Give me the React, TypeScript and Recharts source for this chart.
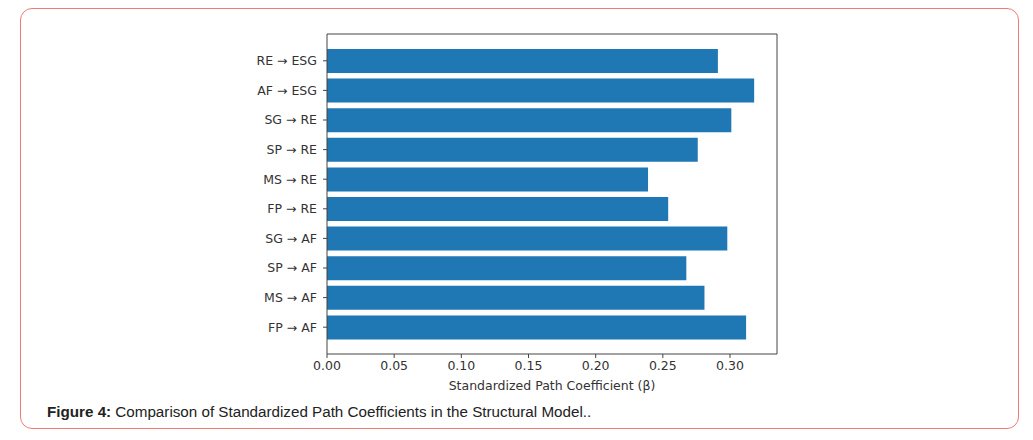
import React from "react";
import { BarChart, Bar, XAxis, YAxis } from "recharts";

const paths = [
  "RE → ESG",
  "AF → ESG",
  "SG → RE",
  "SP → RE",
  "MS → RE",
  "FP → RE",
  "SG → AF",
  "SP → AF",
  "MS → AF",
  "FP → AF",
];
const coefficients = [0.291, 0.318, 0.301, 0.276, 0.239, 0.254, 0.298, 0.2675, 0.281, 0.312];
const xTicks = [0, 0.05, 0.1, 0.15, 0.2, 0.25, 0.3];
const xDomain = [0, 0.335];
const xLabel = "Standardized Path Coefficient (β)";
const captionBold = "Figure 4:";
const captionText = " Comparison of Standardized Path Coefficients in the Structural Model..";

const data = paths.map((p, i) => ({ path: p, beta: coefficients[i] }));

const FONT = "'DejaVu Sans', sans-serif";
const tickStyle = { fontSize: 12.5, fill: "#333", fontFamily: FONT };
const FRAME = "#444";

export default function App() {
  return (
    <div style={{ position: "absolute", left: 0, top: 0, width: 1033, height: 440, background: "#fff" }}>
      <div
        style={{
          position: "absolute",
          left: 20,
          top: 8,
          width: 999,
          height: 421,
          boxSizing: "border-box",
          border: "1.5px solid #f07a74",
          borderRadius: 12,
        }}
      />
      <div style={{ position: "absolute", left: 0, top: 0 }}>
        <BarChart
          width={1033}
          height={440}
          data={data}
          layout="vertical"
          margin={{ top: 34, right: 256, bottom: 50, left: 0 }}
          barCategoryGap={0}
        >
          <XAxis
            type="number"
            dataKey="beta"
            domain={xDomain}
            ticks={xTicks}
            allowDataOverflow
            tickFormatter={(v: number) => v.toFixed(2)}
            tick={tickStyle}
            tickSize={4}
            tickMargin={3}
            stroke={FRAME}
            height={36}
            label={{ value: xLabel, position: "insideBottom", offset: 0, style: { ...tickStyle, textAnchor: "middle" } }}
          />
          <XAxis
            xAxisId="top"
            orientation="top"
            type="number"
            domain={xDomain}
            allowDataOverflow
            mirror
            tick={false}
            tickLine={false}
            stroke={FRAME}
            height={10}
          />
          <YAxis
            type="category"
            dataKey="path"
            width={327}
            tick={tickStyle}
            tickSize={4}
            tickMargin={6}
            stroke={FRAME}
            padding={{ top: 12, bottom: 12 }}
            interval={0}
          />
          <YAxis
            yAxisId="right"
            orientation="right"
            type="category"
            dataKey="path"
            mirror
            tick={false}
            tickLine={false}
            stroke={FRAME}
            width={10}
          />
          <Bar dataKey="beta" fill="#1f77b4" barSize={24} isAnimationActive={false} />
        </BarChart>
      </div>
      <div
        style={{
          position: "absolute",
          left: 47,
          top: 403,
          fontFamily: "'Liberation Sans', Arial, sans-serif",
          fontSize: 15.2,
          color: "#222",
          whiteSpace: "nowrap",
        }}
      >
        <b>{captionBold}</b>
        {captionText}
      </div>
    </div>
  );
}
